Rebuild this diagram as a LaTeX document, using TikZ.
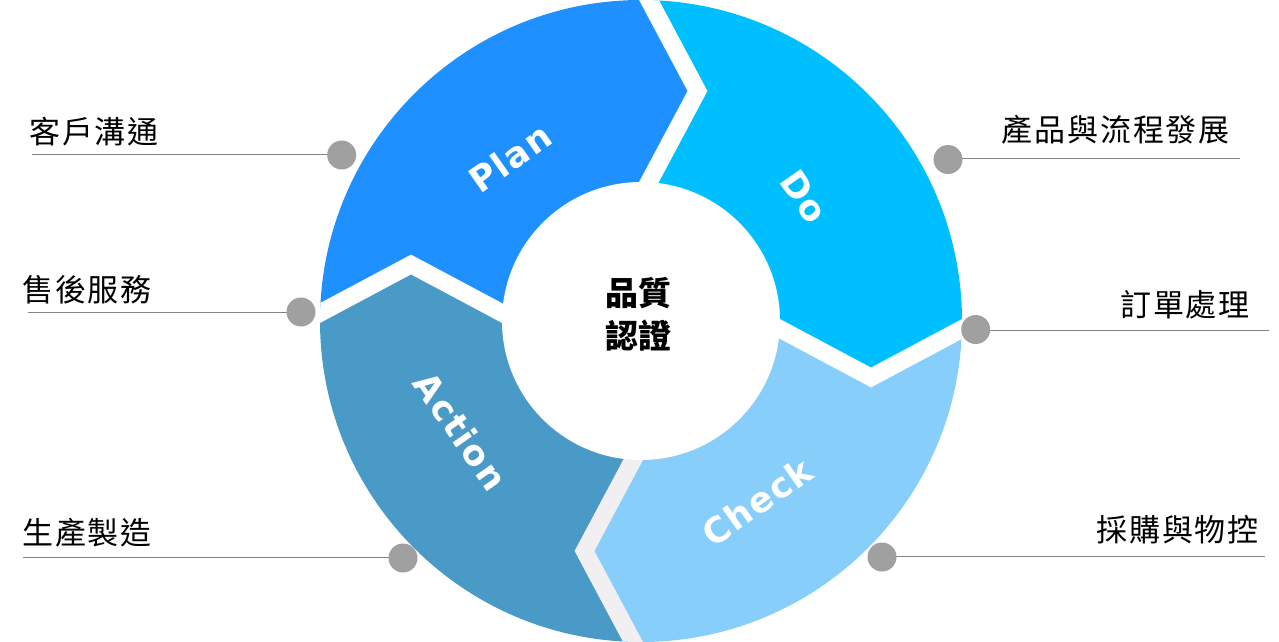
\documentclass[tikz,border=0pt]{standalone}
\usepackage{fontspec}
\newfontfamily\cjk{Noto Sans CJK TC}
\newfontfamily\cjkls{Noto Sans CJK TC}[LetterSpace=6]
\newfontfamily\lat{DejaVu Sans}[LetterSpace=5]
\definecolor{plancol}{HTML}{1E90FF}
\definecolor{docol}{HTML}{00BFFF}
\definecolor{checkcol}{HTML}{87CEFA}
\definecolor{actioncol}{HTML}{4A9AC8}
\definecolor{gapgray}{HTML}{F1EFF1}
\definecolor{dotgray}{HTML}{A0A0A0}
\definecolor{leadgray}{HTML}{858585}
\tikzset{
  gapline/.style={line width=17.5pt, line join=miter, line cap=butt},
  ringtxt/.style={text=white, font=\lat\bfseries\fontsize{35}{40}\selectfont, inner sep=0pt},
  sidetxt/.style={text=black, font=\cjkls\fontsize{31}{36}\selectfont, inner sep=0pt},
  dotnode/.style={circle, fill=dotgray, minimum size=29pt, inner sep=0pt},
  lead/.style={draw=leadgray, line width=1pt},
}
\begin{document}
\begin{tikzpicture}[x=1pt,y=-1pt]
\useasboundingbox (0,0) rectangle (1279,642);
\coordinate (C) at (641,321);
% chevron points
\coordinate (tO) at (620.7,-53);  \coordinate (tA) at (697.5,91);  \coordinate (tI) at (620.7,235);
\coordinate (rO) at (1015,300.7); \coordinate (rA) at (871,377.5); \coordinate (rI) at (727,300.7);
\coordinate (bO) at (661.3,695);  \coordinate (bA) at (584.5,551); \coordinate (bI) at (661.3,407);
\coordinate (lO) at (267,341.3);  \coordinate (lA) at (411,264.5); \coordinate (lI) at (555,341.3);
\begin{scope}
  \clip (C) circle[radius=321pt];
  \fill[plancol] (C) -- (tI) -- (tA) -- (tO) -- (250,-60) -- (lO) -- (lA) -- (lI) -- cycle;
  \fill[docol] (C) -- (tI) -- (tA) -- (tO) -- (1050,-60) -- (rO) -- (rA) -- (rI) -- cycle;
  \fill[checkcol] (C) -- (rI) -- (rA) -- (rO) -- (1050,700) -- (bO) -- (bA) -- (bI) -- cycle;
  \fill[actioncol] (C) -- (bI) -- (bA) -- (bO) -- (250,700) -- (lO) -- (lA) -- (lI) -- cycle;
  \draw[gapline, white] (tO) -- (tA) -- (tI);
  \draw[gapline, white] (rO) -- (rA) -- (rI);
  \draw[gapline, gapgray] (bO) -- (bA) -- (bI);
  \draw[gapline, white] (lO) -- (lA) -- (lI);
\end{scope}
\fill[white] (C) circle[radius=139pt];
% ring labels
\node[ringtxt, rotate=35] (plantxt) at (510,158) {Plan};
\node[ringtxt, rotate=-55] (dotxt) at (804,197) {Do};
\node[ringtxt, rotate=35] (checktxt) at (757,502) {Check};
\node[ringtxt, rotate=-55] (actiontxt) at (461,431) {Action};
% centre
\node[font=\cjk\bfseries\fontsize{33}{43}\selectfont, align=center, inner sep=0pt] (centre) at (638,314) {品質\\認證};
% side labels
\node[sidetxt, anchor=west] (t1) at (29,132) {客戶溝通};
\node[sidetxt, anchor=west] (t2) at (22,289.5) {售後服務};
\node[sidetxt, anchor=west] (t3) at (22,532.5) {生產製造};
\node[sidetxt, anchor=east] (t4) at (1230,130) {產品與流程發展};
\node[sidetxt, anchor=east] (t5) at (1250,305) {訂單處理};
\node[sidetxt, anchor=east] (t6) at (1259,530) {採購與物控};
% leader lines
\coordinate (s1) at (31.7,154.5);
\coordinate (s2) at (28,312);
\coordinate (s3) at (23,557.5);
\coordinate (s4) at (1240,158);
\coordinate (s5) at (1269,330.5);
\coordinate (s6) at (1265,556.5);
\coordinate (p1) at (341.7,155);
\coordinate (p2) at (301,312);
\coordinate (p3) at (403,558);
\coordinate (p4) at (948,159.5);
\coordinate (p5) at (975.7,329.5);
\coordinate (p6) at (882,557);
\draw[lead] (s1) -- (s1 -| p1);
\draw[lead] (s2) -- (s2 -| p2);
\draw[lead] (s3) -- (s3 -| p3);
\draw[lead] (s4) -- (s4 -| p4);
\draw[lead] (s5) -- (s5 -| p5);
\draw[lead] (s6) -- (s6 -| p6);
\node[dotnode] (d1) at (p1) {};
\node[dotnode] (d2) at (p2) {};
\node[dotnode] (d3) at (p3) {};
\node[dotnode] (d4) at (p4) {};
\node[dotnode] (d5) at (p5) {};
\node[dotnode] (d6) at (p6) {};
\end{tikzpicture}
\end{document}
